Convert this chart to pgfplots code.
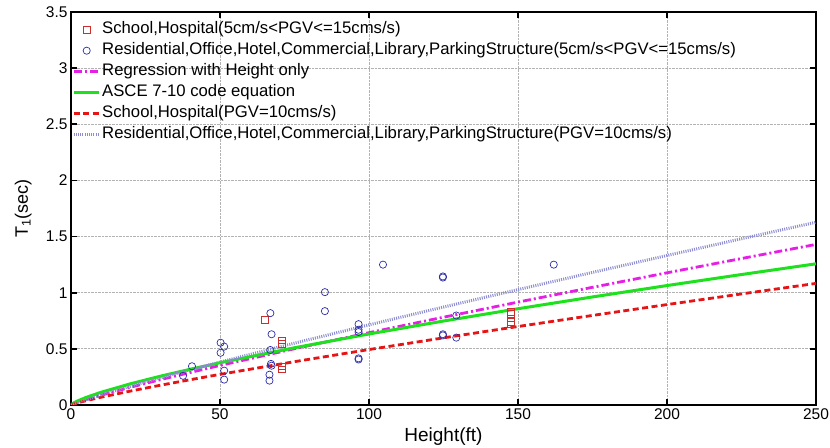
\documentclass[border=0pt]{standalone}
\usepackage{fontspec}
\setmainfont{Liberation Sans}
\usepackage{pgfplots}
\pgfplotsset{compat=1.18}
\definecolor{sqred}{RGB}{205,45,45}
\definecolor{cblue}{RGB}{45,45,170}
\definecolor{lmag}{RGB}{230,30,230}
\definecolor{lgreen}{RGB}{30,225,30}
\definecolor{lred}{RGB}{230,20,20}
\definecolor{lblue}{RGB}{140,140,210}
\pgfplotsset{
  legline/.style={legend image code/.code={\draw[##1] (0pt,0pt) -- (25pt,0pt);}},
  legmark/.style={legend image code/.code={\draw[##1] plot coordinates {(13pt,0pt)};}},
}
\begin{document}
\begin{tikzpicture}
\begin{axis}[
  scale only axis, width=745pt, height=393pt,
  xmin=0, xmax=250, ymin=0, ymax=3.5,
  xtick={0,50,100,150,200,250},
  ytick={0,0.5,1,1.5,2,2.5,3,3.5},
  tick align=inside, major tick length=6pt,
  grid=major, major grid style={densely dotted, gray!60, line width=0.8pt},
  axis line style={line width=2.2pt, black},
  tick style={line width=1.8pt, black},
  ticklabel style={font=\fontsize{15.5}{18}\selectfont},
  /pgf/number format/assume math mode=true,
  xlabel={Height(ft)},
  ylabel={T\textsubscript{1}(sec)},
  xlabel style={font=\fontsize{19}{22}\selectfont, at={(axis description cs:0.5,0)}, anchor=center, yshift=-32pt},
  ylabel style={font=\fontsize{18}{21}\selectfont, at={(axis description cs:-0.064,0.5)}, anchor=center},
  legend cell align=left,
  legend style={at={(0,1)}, anchor=north west, draw=none, fill=none,
    inner xsep=1pt, inner ysep=7pt, row sep=0pt,
    font=\fontsize{16.7}{19}\selectfont,
    nodes={inner xsep=2pt, inner ysep=2.6pt, text height=12pt, text depth=3.8pt},
    /tikz/every even column/.append style={column sep=0pt}},
]
\addplot[only marks, mark=square, mark size=3.2pt, color=sqred, line width=0.7pt,
  mark options={draw=sqred, solid}, legmark]
  coordinates {
  (65.1,0.76) (70.8,0.575) (70.8,0.545) (70.8,0.345) (70.8,0.315)
  (147.6,0.83) (147.6,0.81) (147.6,0.74) (147.6,0.72)
  };
\addlegendentry{School,Hospital(5cm/s<PGV<=15cms/s)}
\addplot[only marks, mark=o, mark size=3.6pt, color=cblue, line width=0.7pt,
  mark options={draw=cblue, solid}, legmark]
  coordinates {
  (37.6,0.26) (40.6,0.345) (50.2,0.555) (51.4,0.52) (50.2,0.465)
  (51.4,0.306) (51.4,0.226) (66.9,0.818) (67.3,0.63) (66.9,0.49)
  (67.1,0.366) (67.3,0.35) (66.6,0.27) (66.6,0.217) (85.2,1.005)
  (85.2,0.836) (96.5,0.72) (96.5,0.67) (96.5,0.65) (96.5,0.415)
  (96.5,0.405) (104.7,1.25) (124.8,1.145) (124.8,1.135) (124.8,0.63)
  (124.8,0.62) (129.3,0.797) (129.3,0.60) (162,1.25)
  };
\addlegendentry{Residential,Office,Hotel,Commercial,Library,ParkingStructure(5cm/s<PGV<=15cms/s)}
\addplot[lmag, line width=2.8pt, dash pattern=on 8pt off 3pt on 2pt off 3pt, no marks, legline]
  coordinates {
  (0,0) (1,0.0117) (2,0.0213) (5,0.0474) (10,0.0866) (20,0.1585) (30,0.2256)
  (40,0.2898) (50,0.3520) (75,0.5011) (100,0.6439) (125,0.7818) (150,0.9163)
  (175,1.0480) (200,1.1773) (225,1.3045) (250,1.4301)
  };
\addlegendentry{Regression with Height only}
\addplot[lgreen, line width=3pt, no marks, legline]
  coordinates {
  (0,0) (1,0.02) (2,0.0336) (5,0.0669) (10,0.1125) (20,0.1891) (30,0.2564)
  (40,0.3181) (50,0.3761) (75,0.5097) (100,0.6325) (125,0.7477) (150,0.8573)
  (175,0.9622) (200,1.0637) (225,1.1619) (250,1.2574)
  };
\addlegendentry{ASCE 7-10 code equation}
\addplot[lred, line width=2.8pt, dash pattern=on 6pt off 3.5pt, no marks, legline]
  coordinates {
  (0,0) (1,0.0095) (2,0.0173) (5,0.0379) (10,0.0686) (20,0.1243) (30,0.1760)
  (40,0.2251) (50,0.2727) (75,0.3859) (100,0.4938) (125,0.5980) (150,0.6990)
  (175,0.7977) (200,0.8943) (225,0.9893) (250,1.0828)
  };
\addlegendentry{School,Hospital(PGV=10cms/s)}
\addplot[lblue, line width=3pt, dash pattern=on 1pt off 1.2pt, no marks, legline]
  coordinates {
  (0,0) (1,0.0113) (2,0.0211) (5,0.0481) (10,0.0898) (20,0.1676) (30,0.2415)
  (40,0.3128) (50,0.3824) (75,0.5507) (100,0.7137) (125,0.8724) (150,1.0276)
  (175,1.1808) (200,1.3312) (225,1.4805) (250,1.6275)
  };
\addlegendentry{Residential,Office,Hotel,Commercial,Library,ParkingStructure(PGV=10cms/s)}
\end{axis}
\pgfresetboundingbox
\useasboundingbox ([xshift=-71pt,yshift=-43pt]current axis.south west) rectangle ([xshift=14pt,yshift=12pt]current axis.north east);
\end{tikzpicture}
\end{document}
